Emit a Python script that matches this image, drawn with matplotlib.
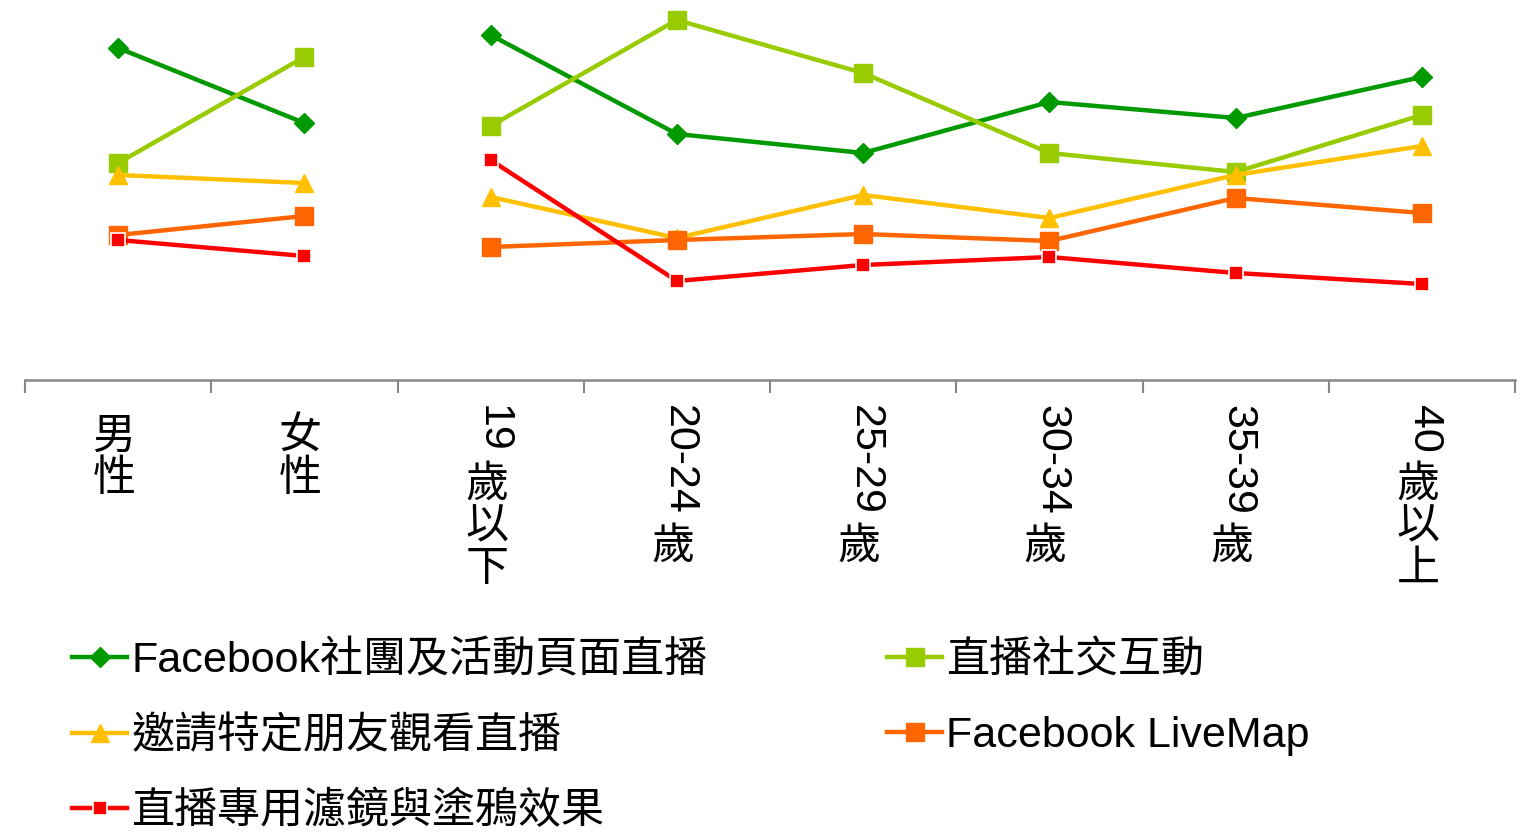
import matplotlib
matplotlib.use('Agg')
import matplotlib.pyplot as plt
import numpy as np

plt.rcParams['font.family'] = ['Liberation Sans', 'Noto Sans CJK TC', 'DejaVu Sans']

# category labels: gender group, then age group
gender_labels = ['男性', '女性']
age_labels = ['19 歲以下', '20-24 歲', '25-29 歲', '30-34 歲', '35-39 歲', '40 歲以上']

series_names = ['Facebook社團及活動頁面直播', '直播社交互動', '邀請特定朋友觀看直播',
                'Facebook LiveMap', '直播專用濾鏡與塗鴉效果']

# values (%)
fb_group_gender = [33.2, 25.7]
fb_group_age = [34.5, 24.6, 22.7, 27.8, 26.2, 30.3]
social_gender = [21.7, 32.3]
social_age = [25.4, 36.0, 30.7, 22.7, 20.8, 26.5]
invite_gender = [20.5, 19.7]
invite_age = [18.3, 14.2, 18.5, 16.2, 20.5, 23.4]
livemap_gender = [14.5, 16.4]
livemap_age = [13.3, 14.0, 14.6, 13.9, 18.2, 16.7]
filter_gender = [14.0, 12.4]
filter_age = [22.0, 9.9, 11.5, 12.3, 10.7, 9.6]

W, H = 1524, 834
fig = plt.figure(figsize=(W / 100, H / 100), dpi=100)
ax = fig.add_axes([25 / W, (H - 380) / H, (1515 - 25) / W, 380 / H])

styles = [
    dict(color='#009900', marker='D', ms=10, mec='#009900'),
    dict(color='#99CC00', marker='s', ms=13, mec='#99CC00'),
    dict(color='#FFC000', marker='^', ms=13, mec='#FFC000'),
    dict(color='#FF6600', marker='s', ms=13, mec='#FF6600'),
    dict(color='#FF0000', marker='s', ms=10, mec='white', mew=1.2),
]
data = [(fb_group_gender, fb_group_age), (social_gender, social_age),
        (invite_gender, invite_age), (livemap_gender, livemap_age),
        (filter_gender, filter_age)]

x_gender = np.arange(len(gender_labels))
x_age = np.arange(len(age_labels)) + len(gender_labels)

handles = []
for name, st, (g, a) in zip(series_names, styles, data):
    h, = ax.plot(x_gender, g, lw=3.2, label=name, **st)
    ax.plot(x_age, a, lw=3.2, **st)
    handles.append(h)

n = len(gender_labels) + len(age_labels)
ax.set_xlim(-0.5, n - 0.5)
ax.set_ylim(0, 38)
for s in ['top', 'left', 'right']:
    ax.spines[s].set_visible(False)
ax.spines['bottom'].set_color('#888888')
ax.spines['bottom'].set_linewidth(1.8)
ax.set_yticks([])
ax.set_xticks(np.arange(n + 1) - 0.5)
ax.set_xticklabels([])
ax.tick_params(axis='x', direction='out', length=9, width=1.5, color='#888888')

# vertical (stacked) category labels, digits rotated
renderer = fig.canvas.get_renderer()
fs = 31
pitch = 42
labels = gender_labels + age_labels
for i, lab in enumerate(labels):
    xd = ax.transData.transform((i, 0))[0]
    cursor = 405
    if not lab[0].isdigit():
        cursor += 12
    parts = lab.split(' ')
    for part in parts:
        if part[0].isdigit():
            t = fig.text(xd + 2, H - cursor, part, fontsize=fs, rotation=-90,
                         ha='center', va='top', transform=None)
            bb = t.get_window_extent(renderer)
            cursor += bb.height + 12
        else:
            for ch in part:
                fig.text(xd - 4, H - (cursor + pitch / 2), ch, fontsize=fs,
                         ha='center', va='center', transform=None)
                cursor += pitch

common = dict(loc='upper left', frameon=False, fontsize=fs, borderpad=0,
              borderaxespad=0, handlelength=1.28, handletextpad=0.1,
              labelspacing=0.82)
leg1 = fig.legend([handles[0], handles[2], handles[4]],
                  [series_names[0], series_names[2], series_names[4]],
                  bbox_to_anchor=(72 / W, (H - 641) / H), **common)
leg2 = fig.legend([handles[1], handles[3]],
                  [series_names[1], series_names[3]],
                  bbox_to_anchor=(887 / W, (H - 641) / H), **common)

fig.savefig('out.png', dpi=100)
